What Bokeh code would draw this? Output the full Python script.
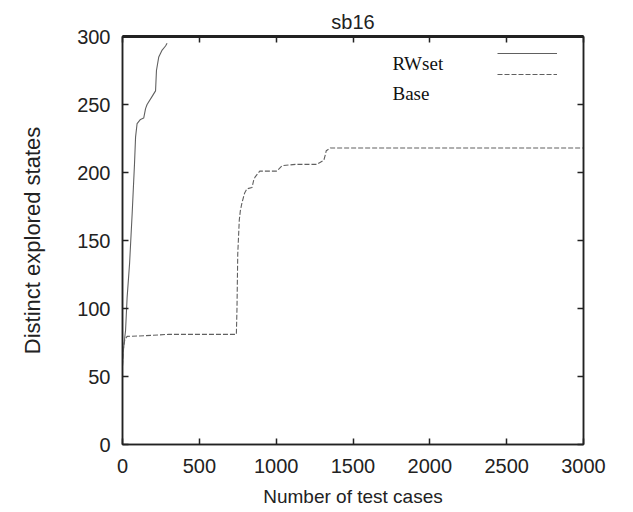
from bokeh.plotting import figure
from bokeh.models import (LinearAxis, Range1d, Legend, LegendItem, Label,
                          FixedTicker, ColumnDataSource)
from bokeh.embed import file_html
from bokeh.resources import INLINE

# ---- data ----
rwset_x = [0, 5, 10, 20, 30, 46, 63, 78, 85, 95, 117, 138, 150, 160, 193, 215, 221, 236, 258, 280, 290]
rwset_y = [58, 68, 74, 84, 108, 133, 170, 206, 226, 236, 239, 240, 247, 250, 256, 260, 275, 285, 290, 293, 295]

base_x = [0, 5, 15, 30, 150, 300, 500, 741, 745, 750, 760, 767, 778, 795, 810, 843, 855, 865, 893,
          1005, 1038, 1125, 1265, 1310, 1320, 1326, 1352, 3000]
base_y = [58, 70, 77, 79.5, 80, 81, 81, 81, 100, 140, 165, 172, 178, 185, 188, 189, 195, 197, 201,
          201, 205, 206, 206, 209, 213, 216, 218, 218]

x_ticks = [0, 500, 1000, 1500, 2000, 2500, 3000]
y_ticks = [0, 50, 100, 150, 200, 250, 300]
series_names = ["RWset", "Base"]
chart_title = "sb16"
x_label = "Number of test cases"
y_label = "Distinct explored states"

SANS = "Liberation Sans"
SERIF = "Liberation Serif"
AXIS_COLOR = "#222222"
LINE_COLOR = "#606060"

p = figure(frame_width=461, frame_height=408,
           x_range=Range1d(0, 3000), y_range=Range1d(0, 300),
           output_backend="svg", toolbar_location=None,
           min_border_left=122, min_border_right=42, min_border_top=36, min_border_bottom=4,
           x_axis_location=None, y_axis_location=None)
p.title.text = chart_title
p.title.align = "center"
p.title.text_font = SANS
p.title.text_font_size = "20px"
p.title.text_font_style = "normal"
p.title.text_color = AXIS_COLOR
p.title.standoff = 8
p.title.offset = 0

p.grid.visible = False
p.outline_line_color = AXIS_COLOR
p.outline_line_width = 1.5

bottom = LinearAxis(axis_label=x_label)
left = LinearAxis(axis_label=y_label)
top = LinearAxis()
right = LinearAxis()

def style_axis(ax, ticks, show_labels):
    ax.ticker = FixedTicker(ticks=ticks)
    ax.major_tick_in = 6
    ax.major_tick_out = 0
    ax.minor_tick_in = 0
    ax.minor_tick_out = 0
    ax.axis_line_color = AXIS_COLOR
    ax.axis_line_width = 1.5
    ax.major_tick_line_color = AXIS_COLOR
    ax.major_tick_line_width = 1.5
    ax.major_label_text_font = SANS
    ax.major_label_text_color = AXIS_COLOR
    ax.axis_label_text_font = SANS
    ax.axis_label_text_font_style = "normal"
    ax.axis_label_text_color = AXIS_COLOR
    ax.major_label_text_font_size = "20px"
    ax.axis_label_text_font_size = "19px"
    if not show_labels:
        ax.major_label_overrides = {t: "" for t in ticks}
        ax.major_label_standoff = 0

style_axis(bottom, x_ticks, True)
style_axis(top, x_ticks, False)
style_axis(left, y_ticks, True)
style_axis(right, y_ticks, False)
bottom.major_label_standoff = 14
bottom.axis_label_standoff = 10
left.major_label_standoff = 12
left.axis_label_standoff = 29
left.axis_label_text_font_size = "22px"
top.axis_line_width = 3

p.add_layout(bottom, "below")
p.add_layout(left, "left")
p.add_layout(top, "above")
p.add_layout(right, "right")

src_rw = ColumnDataSource(dict(x=rwset_x, y=rwset_y))
src_base = ColumnDataSource(dict(x=base_x, y=base_y))
r1 = p.line("x", "y", source=src_rw, line_color=LINE_COLOR, line_width=1.1)
r2 = p.line("x", "y", source=src_base, line_color=LINE_COLOR, line_width=1.1, line_dash="5 2")

legend = Legend(items=[LegendItem(label=" ", renderers=[r1]),
                       LegendItem(label=" ", renderers=[r2])],
                location=(375, 360), glyph_width=60, glyph_height=20,
                label_height=20, label_width=0, label_standoff=0, spacing=1,
                padding=0, margin=0, border_line_alpha=0, background_fill_alpha=0,
                label_text_font_size="6px")
p.add_layout(legend, "center")

for name, ypos in zip(series_names, (381, 351)):
    p.add_layout(Label(x=270, y=ypos, x_units="screen", y_units="screen", text=name,
                       text_font=SERIF, text_font_size="19px", text_color="#111111",
                       text_baseline="middle"))

open("out.html", "w").write(file_html(p, INLINE))
